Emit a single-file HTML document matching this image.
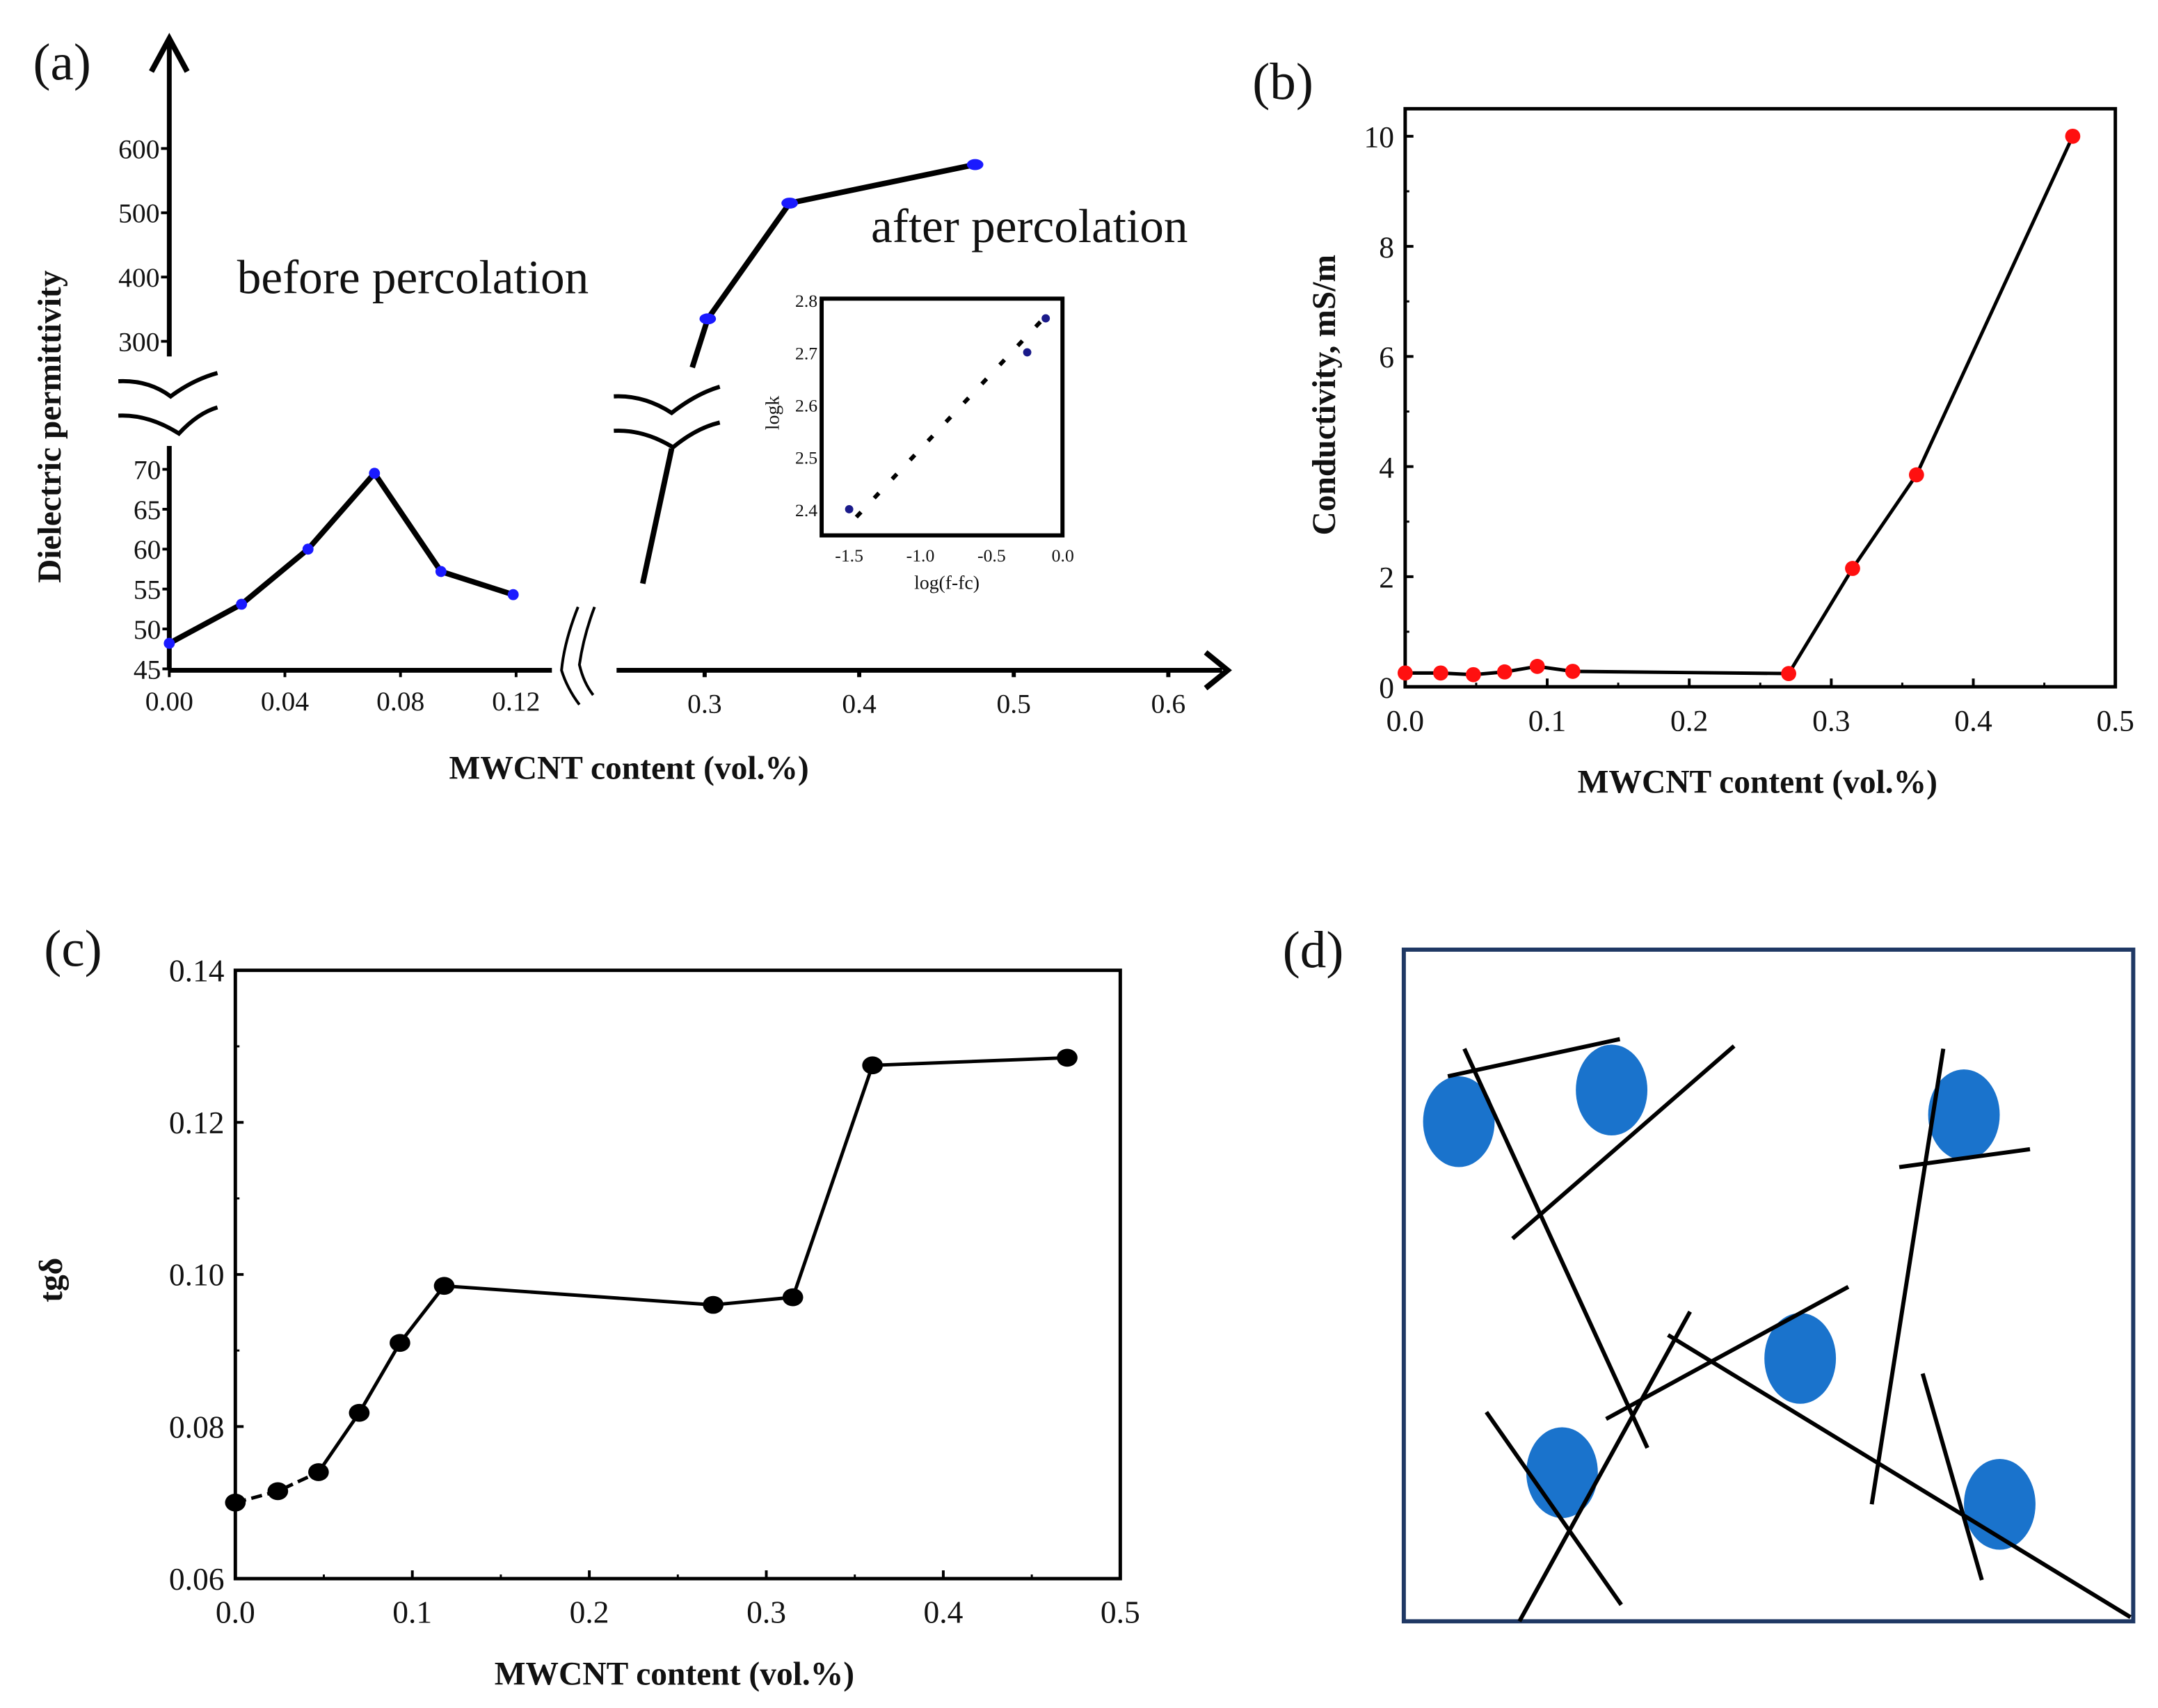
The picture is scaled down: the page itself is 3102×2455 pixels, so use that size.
<!DOCTYPE html>
<html><head><meta charset="utf-8"><style>
html,body{margin:0;padding:0;background:#fff;}
svg{display:block;}
text{font-family:"Liberation Serif",serif;fill:#111;}
</style></head><body>
<svg id="fig" width="3102" height="2455" viewBox="0 0 1568 1241" preserveAspectRatio="none" xmlns="http://www.w3.org/2000/svg">
<g id="pa"></g>
<g id="pb"></g>
<g id="pc"></g>
<g id="pd"></g>
</svg>
<script>
// ---- panel (a) data ----
const aLowX = [0, 0.025, 0.048, 0.071, 0.094, 0.119];
const aLowY = [48.2, 53.1, 60.0, 69.5, 57.2, 54.3];
const aHighX = [0.302, 0.355, 0.475];
const aHighY = [335, 515, 575];
const aLowTicks = [45, 50, 55, 60, 65, 70];
const aHighTicks = [300, 400, 500, 600];
const aLowXTicks = ["0.00", "0.04", "0.08", "0.12"];
const aHighXTicks = ["0.3", "0.4", "0.5", "0.6"];
const insetX = [-1.5, -0.25, -0.12];
const insetY = [2.40, 2.70, 2.765];
const insetYTicks = ["2.8", "2.7", "2.6", "2.5", "2.4"];
const insetXTicks = ["-1.5", "-1.0", "-0.5", "0.0"];
// ---- panel (b) data ----
const bX = [0, 0.025, 0.048, 0.07, 0.093, 0.118, 0.27, 0.315, 0.36, 0.47];
const bY = [0.25, 0.25, 0.22, 0.27, 0.37, 0.28, 0.24, 2.15, 3.85, 10.0];
const bYTicks = [0, 2, 4, 6, 8, 10];
const bXTicks = ["0.0", "0.1", "0.2", "0.3", "0.4", "0.5"];
// ---- panel (c) data ----
const cX = [0, 0.024, 0.047, 0.07, 0.093, 0.118, 0.27, 0.315, 0.36, 0.47];
const cY = [0.0700, 0.0715, 0.0740, 0.0818, 0.0910, 0.0985, 0.0960, 0.0970, 0.1275, 0.1285];
const cYTicks = ["0.06", "0.08", "0.10", "0.12", "0.14"];
const cXTicks = ["0.0", "0.1", "0.2", "0.3", "0.4", "0.5"];

const NS = "http://www.w3.org/2000/svg";
function mk(parent, tag, attrs, txt) {
  const e = document.createElementNS(NS, tag);
  for (const k in attrs) e.setAttribute(k, attrs[k]);
  if (txt !== undefined) e.textContent = txt;
  parent.appendChild(e);
  return e;
}
function named(e, n, i) {
  
  
  return e;
}

// ===== Panel A =====
(function(){
  const g = document.getElementById('pa');
  const ax = 123;
  const xl = v => 123 + v * 2100;
  const yl = v => 486 - (v - 45) * 5.8;
  const xh = v => 512 + (v - 0.3) * 1123;
  const yh = v => 248 - (v - 300) * 0.467;
  let e;
  e = mk(g,'text',{x:24,y:58,'font-size':38}, '(a)'); named(e,'panel-a-label');
  e = mk(g,'line',{x1:ax,y1:30,x2:ax,y2:259,stroke:'#000','stroke-width':3.5}); named(e,'y-axis-upper');
  e = mk(g,'path',{d:`M${ax-13},52 L${ax},28 L${ax+13},52`,fill:'none',stroke:'#000','stroke-width':4}); named(e,'y-axis-arrow');
  aHighTicks.forEach(t=>{
    mk(g,'line',{x1:ax-6,y1:yh(t),x2:ax,y2:yh(t),stroke:'#000','stroke-width':2});
    e = mk(g,'text',{x:ax-7,y:yh(t)+7,'font-size':20,'text-anchor':'end'}, t); named(e,'y-tick-label');
  });
  e = mk(g,'line',{x1:ax,y1:324,x2:ax,y2:487,stroke:'#000','stroke-width':3.5}); named(e,'y-axis-lower');
  aLowTicks.forEach(t=>{
    mk(g,'line',{x1:ax-5,y1:yl(t),x2:ax,y2:yl(t),stroke:'#000','stroke-width':2});
    e = mk(g,'text',{x:ax-6,y:yl(t)+7,'font-size':20,'text-anchor':'end'}, t); named(e,'y-tick-label');
  });
  e = mk(g,'path',{d:'M86,277 Q108,276 124,288 Q140,276 158,271 M86,302 Q108,301 130,315 Q144,300 158,296',fill:'none',stroke:'#000','stroke-width':3}); named(e,'y-axis-break');
  e = mk(g,'line',{x1:ax,y1:487,x2:401,y2:487,stroke:'#000','stroke-width':3.5}); named(e,'x-axis-left');
  aLowXTicks.forEach(t=>{
    const x = xl(parseFloat(t));
    mk(g,'line',{x1:x,y1:487,x2:x,y2:492,stroke:'#000','stroke-width':2});
    e = mk(g,'text',{x:x,y:516,'font-size':20,'text-anchor':'middle'}, t); named(e,'x-tick-label');
  });
  e = mk(g,'path',{d:'M420,441 Q410,466 408,487 Q412,500 421,512 M432,441 Q424,462 421,483 Q424,496 431,505',fill:'none',stroke:'#000','stroke-width':2}); named(e,'x-axis-break');
  e = mk(g,'line',{x1:448,y1:487,x2:888,y2:487,stroke:'#000','stroke-width':3.5}); named(e,'x-axis-right');
  e = mk(g,'path',{d:'M876,474 L892,487 L876,500',fill:'none',stroke:'#000','stroke-width':4}); named(e,'x-axis-arrow');
  aHighXTicks.forEach(t=>{
    const x = xh(parseFloat(t));
    mk(g,'line',{x1:x,y1:487,x2:x,y2:492,stroke:'#000','stroke-width':3});
    e = mk(g,'text',{x:x,y:518,'font-size':20,'text-anchor':'middle'}, t); named(e,'x-tick-label');
  });
  e = mk(g,'polyline',{points:aLowX.map((v,i)=>xl(v)+','+yl(aLowY[i])).join(' '),fill:'none',stroke:'#000','stroke-width':4}); named(e,'before-percolation-line');
  aLowX.forEach((v,i)=>{ e = mk(g,'ellipse',{cx:xl(v),cy:yl(aLowY[i]),rx:4,ry:4,fill:'#1a1aff'}); named(e,'before-point'); });
  e = mk(g,'path',{d:`M503,267 L${xh(aHighX[0])},${yh(aHighY[0])}`,stroke:'#000','stroke-width':4,fill:'none'}); named(e,'after-lead-line');
  e = mk(g,'polyline',{points:aHighX.map((v,i)=>xh(v)+','+yh(aHighY[i])).join(' '),fill:'none',stroke:'#000','stroke-width':4}); named(e,'after-percolation-line');
  aHighX.forEach((v,i)=>{ e = mk(g,'ellipse',{cx:xh(v),cy:yh(aHighY[i]),rx:6,ry:4,fill:'#1a1aff'}); named(e,'after-point'); });
  e = mk(g,'path',{d:'M446,288 Q468,287 488,300 Q506,286 523,281 M446,313 Q468,312 489,325 Q506,311 523,307',fill:'none',stroke:'#000','stroke-width':3}); named(e,'series-break');
  e = mk(g,'line',{x1:488,y1:326,x2:467,y2:424,stroke:'#000','stroke-width':4}); named(e,'steep-rise-line');
  e = mk(g,'text',{x:300,y:213,'font-size':35,'text-anchor':'middle'}, 'before percolation'); named(e,'before-percolation-label');
  e = mk(g,'text',{x:748,y:176,'font-size':35,'text-anchor':'middle'}, 'after percolation'); named(e,'after-percolation-label');
  e = mk(g,'text',{x:0,y:0,'font-size':24,'font-weight':'bold','text-anchor':'middle',transform:'translate(44,310) rotate(-90)'}, 'Dielectric permittivity'); named(e,'y-axis-title');
  e = mk(g,'text',{x:457,y:566,'font-size':24,'font-weight':'bold','text-anchor':'middle'}, 'MWCNT content (vol.%)'); named(e,'x-axis-title');
  const ix = v => 617 + (v + 1.5) * 103.5;
  const iy = v => 370 - (v - 2.4) * 380;
  const ins = mk(g,'g',{}); named(ins,'inset-plot');
  e = mk(ins,'rect',{x:597,y:217,width:175,height:172,fill:'none',stroke:'#000','stroke-width':3}); named(e,'inset-frame');
  insetYTicks.forEach(t=>{
    e = mk(ins,'text',{x:594,y:iy(parseFloat(t))+5,'font-size':13,'text-anchor':'end'}, t); named(e,'inset-y-tick-label');
  });
  insetXTicks.forEach(t=>{
    e = mk(ins,'text',{x:ix(parseFloat(t)),y:408,'font-size':13,'text-anchor':'middle'}, t); named(e,'inset-x-tick-label');
  });
  e = mk(ins,'line',{x1:ix(-1.45),y1:iy(2.385),x2:ix(-0.1),y2:iy(2.775),stroke:'#000','stroke-width':3,'stroke-dasharray':'5 14'}); named(e,'inset-fit-line');
  insetX.forEach((v,i)=>{ e = mk(ins,'circle',{cx:ix(v),cy:iy(insetY[i]),r:3,fill:'#1a1a8a'}); named(e,'inset-point'); });
  e = mk(ins,'text',{x:688,y:428,'font-size':14,'text-anchor':'middle'}, 'log(f-fc)'); named(e,'inset-x-title');
  e = mk(ins,'text',{x:0,y:0,'font-size':14,'text-anchor':'middle',transform:'translate(566,300) rotate(-90)'}, 'logk'); named(e,'inset-y-title');
})();

// ===== Panel B =====
(function(){
  const g = document.getElementById('pb');
  const L=1021,R=1537,T=79,B=499;
  const x = v => L + v * (R - L) / 0.5;
  const y = v => B - v * 40;
  let e;
  e = mk(g,'text',{x:910,y:72,'font-size':38}, '(b)'); named(e,'panel-b-label');
  e = mk(g,'rect',{x:L,y:T,width:R-L,height:B-T,fill:'none',stroke:'#000','stroke-width':2.5}); named(e,'plot-frame');
  bYTicks.forEach(t=>{
    mk(g,'line',{x1:L,y1:y(t),x2:L+6,y2:y(t),stroke:'#000','stroke-width':2});
    if (t < 10) mk(g,'line',{x1:L,y1:y(t+1),x2:L+3,y2:y(t+1),stroke:'#000','stroke-width':1.5});
    e = mk(g,'text',{x:L-8,y:y(t)+8,'font-size':22,'text-anchor':'end'}, t); named(e,'y-tick-label');
  });
  bXTicks.forEach(t=>{
    const v = parseFloat(t);
    mk(g,'line',{x1:x(v),y1:B,x2:x(v),y2:B-6,stroke:'#000','stroke-width':2});
    if (v < 0.5) mk(g,'line',{x1:x(v+0.05),y1:B,x2:x(v+0.05),y2:B-3,stroke:'#000','stroke-width':1.5});
    e = mk(g,'text',{x:x(v),y:B+32,'font-size':22,'text-anchor':'middle'}, t); named(e,'x-tick-label');
  });
  e = mk(g,'polyline',{points:bX.map((v,i)=>x(v)+','+y(bY[i])).join(' '),fill:'none',stroke:'#000','stroke-width':2.5}); named(e,'conductivity-line');
  bX.forEach((v,i)=>{ e = mk(g,'circle',{cx:x(v),cy:y(bY[i]),r:5.5,fill:'#ff1010'}); named(e,'conductivity-point'); });
  e = mk(g,'text',{x:0,y:0,'font-size':24,'font-weight':'bold','text-anchor':'middle',transform:'translate(970,287) rotate(-90)'}, 'Conductivity, mS/m'); named(e,'y-axis-title');
  e = mk(g,'text',{x:1277,y:576,'font-size':24,'font-weight':'bold','text-anchor':'middle'}, 'MWCNT content (vol.%)'); named(e,'x-axis-title');
})();

// ===== Panel C =====
(function(){
  const g = document.getElementById('pc');
  const L=171,R=814,T=705,B=1147;
  const x = v => L + v * (R - L) / 0.5;
  const y = v => B - (v - 0.06) * (B - T) / 0.08;
  let e;
  e = mk(g,'text',{x:32,y:702,'font-size':38}, '(c)'); named(e,'panel-c-label');
  e = mk(g,'rect',{x:L,y:T,width:R-L,height:B-T,fill:'none',stroke:'#000','stroke-width':2.5}); named(e,'plot-frame');
  cYTicks.forEach(t=>{
    const v = parseFloat(t);
    mk(g,'line',{x1:L,y1:y(v),x2:L+6,y2:y(v),stroke:'#000','stroke-width':2});
    if (v < 0.139) mk(g,'line',{x1:L,y1:y(v+0.01),x2:L+3,y2:y(v+0.01),stroke:'#000','stroke-width':1.5});
    e = mk(g,'text',{x:L-8,y:y(v)+8,'font-size':23,'text-anchor':'end'}, t); named(e,'y-tick-label');
  });
  cXTicks.forEach(t=>{
    const v = parseFloat(t);
    mk(g,'line',{x1:x(v),y1:B,x2:x(v),y2:B-6,stroke:'#000','stroke-width':2});
    if (v < 0.5) mk(g,'line',{x1:x(v+0.05),y1:B,x2:x(v+0.05),y2:B-3,stroke:'#000','stroke-width':1.5});
    e = mk(g,'text',{x:x(v),y:B+32,'font-size':23,'text-anchor':'middle'}, t); named(e,'x-tick-label');
  });
  e = mk(g,'polyline',{points:cX.slice(0,3).map((v,i)=>x(v)+','+y(cY[i])).join(' '),fill:'none',stroke:'#000','stroke-width':2.5,'stroke-dasharray':'8 4'}); named(e,'tan-delta-dashed-line');
  e = mk(g,'polyline',{points:cX.slice(2).map((v,i)=>x(v)+','+y(cY[i+2])).join(' '),fill:'none',stroke:'#000','stroke-width':2.5}); named(e,'tan-delta-line');
  cX.forEach((v,i)=>{ e = mk(g,'ellipse',{cx:x(v),cy:y(cY[i]),rx:7.5,ry:6.5,fill:'#000'}); named(e,'tan-delta-point'); });
  e = mk(g,'text',{x:0,y:0,'font-size':24,'font-weight':'bold','text-anchor':'middle',transform:'translate(45,930) rotate(-90)'}, 'tgδ'); named(e,'y-axis-title');
  e = mk(g,'text',{x:490,y:1224,'font-size':24,'font-weight':'bold','text-anchor':'middle'}, 'MWCNT content (vol.%)'); named(e,'x-axis-title');
})();

// ===== Panel D =====
(function(){
  const g = document.getElementById('pd');
  let e;
  e = mk(g,'text',{x:932,y:703,'font-size':38}, '(d)'); named(e,'panel-d-label');
  e = mk(g,'rect',{x:1020,y:690,width:530,height:488,fill:'none',stroke:'#1f3864','stroke-width':3}); named(e,'schematic-frame');
  const circ = [[1060,815],[1171,792],[1427,810],[1308,987],[1135,1070],[1453,1093]];
  circ.forEach(c=>{ e = mk(g,'ellipse',{cx:c[0],cy:c[1],rx:26,ry:33,fill:'#1a73cc'}); named(e,'filler-particle'); });
  const lines = [[1052,782,1177,755],[1064,762,1197,1052],[1099,900,1260,760],[1412,762,1360,1093],[1380,848,1475,835],[1167,1031,1343,935],[1228,953,1104,1178],[1212,970,1548,1175],[1080,1026,1178,1166],[1397,998,1440,1148]];
  lines.forEach(l=>{ e = mk(g,'line',{x1:l[0],y1:l[1],x2:l[2],y2:l[3],stroke:'#000','stroke-width':3}); named(e,'nanotube'); });
})();
</script>
</body></html>
